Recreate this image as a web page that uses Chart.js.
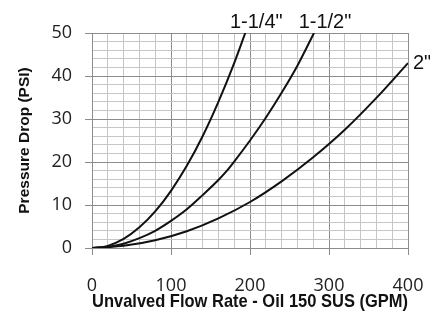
<!DOCTYPE html>
<html>
<head>
<meta charset="utf-8">
<script src="https://cdn.jsdelivr.net/npm/chart.js@4"></script>
<style>
  html, body { margin: 0; padding: 0; background: #fff; }
  #wrap { width: 430px; height: 311px; }
</style>
</head>
<body>
<div id="wrap"><canvas id="chart"></canvas></div>
<script>
// flow (GPM) and pressure drop (PSI)
const flow114 = [0, 20, 40, 60, 80, 100, 120, 140, 160, 180, 194];
const psi114  = [0, 0.5, 2.1, 4.8, 8.5, 13.3, 19.1, 26, 34, 43, 50];

const flow112 = [0, 20, 40, 60, 80, 100, 120, 140, 160, 170, 180, 200, 220, 240, 260, 281];
const psi112  = [0, 0.25, 1, 2.3, 4, 6.3, 9, 12.3, 15.8, 17.8, 20.1, 25, 30.3, 36.1, 42.4, 50];

const flow2 = [0, 40, 80, 120, 160, 200, 240, 280, 320, 360, 400];
const psi2  = [0, 0.5, 1.8, 3.9, 6.9, 10.7, 15.5, 21.1, 27.5, 34.9, 43];

const seriesLabels = ['1-1/4"', '1-1/2"', '2"'];

const xTitle = 'Unvalved Flow Rate - Oil 150 SUS (GPM)';
const yTitle = 'Pressure Drop (PSI)';

const majorGrid = '#8c8c8c';
const minorGrid = '#c6c6c6';

let toPoints = function(xs, ys) {
  return xs.map((x, i) => ({x: x, y: ys[i]}));
}

let makeSet = function(label, xs, ys) {
  return {
    label: label,
    data: toPoints(xs, ys),
    showLine: true,
    borderColor: '#111',
    borderWidth: 2,
    pointRadius: 0,
    fill: false,
    cubicInterpolationMode: 'monotone'
  };
}

// writes the size label next to the end of each curve
const endLabels = {
  id: 'endLabels',
  afterDraw(chart) {
    const ctx = chart.ctx;
    const xs = chart.scales.x, ys = chart.scales.y;
    ctx.save();
    ctx.font = '20px "Liberation Sans", Arial, sans-serif';
    ctx.fillStyle = '#111';
    chart.data.datasets.forEach((ds, i) => {
      const last = ds.data[ds.data.length - 1];
      const px = xs.getPixelForValue(last.x);
      const py = ys.getPixelForValue(last.y);
      if (i < 2) {
        ctx.textAlign = 'center';
        ctx.textBaseline = 'bottom';
        ctx.fillText(ds.label, px + 11, chart.chartArea.top - 1);
      } else {
        ctx.textAlign = 'left';
        ctx.textBaseline = 'middle';
        ctx.fillText(ds.label, px + 5, py);
      }
    });
    ctx.restore();
  }
};

const tickFont = { family: '"Open Sans", sans-serif', size: 18 };

const config = {
  type: 'scatter',
  data: {
    datasets: [
      makeSet(seriesLabels[0], flow114, psi114),
      makeSet(seriesLabels[1], flow112, psi112),
      makeSet(seriesLabels[2], flow2, psi2)
    ]
  },
  options: {
    responsive: true,
    maintainAspectRatio: false,
    animation: false,
    layout: { padding: { left: 0, top: 33, right: 22, bottom: 0 } },
    plugins: {
      legend: { display: false },
      tooltip: { enabled: false }
    },
    scales: {
      x: {
        type: 'linear',
        min: 0,
        max: 400,
        afterFit: (scale) => {
          scale.height = 63;
          scale.paddingLeft = 0;
          scale.paddingRight = 0;
        },
        ticks: {
          stepSize: 20,
          autoSkip: false,
          maxRotation: 0,
          padding: 20,
          color: '#222',
          font: tickFont,
          callback: (v) => (v % 100 === 0 ? v : '')
        },
        grid: {
          color: (c) => (c.tick && c.tick.value % 100 === 0 ? majorGrid : minorGrid),
          tickColor: (c) => (c.tick && c.tick.value % 100 === 0 ? majorGrid : 'rgba(0,0,0,0)'),
          tickLength: 7,
          lineWidth: 1
        },
        border: { color: majorGrid },
        title: {
          display: true,
          text: xTitle,
          color: '#111',
          font: { family: '"Liberation Sans", Arial, sans-serif', size: 18.5, weight: 'bold', lineHeight: 1 },
          padding: { top: 0, bottom: 0 }
        }
      },
      y: {
        type: 'linear',
        min: 0,
        max: 50,
        afterFit: (scale) => { scale.width = 92; },
        ticks: {
          stepSize: 2,
          autoSkip: false,
          padding: 13,
          color: '#222',
          font: tickFont,
          callback: (v) => (v % 10 === 0 ? v : '')
        },
        grid: {
          color: (c) => (c.tick && c.tick.value % 10 === 0 ? majorGrid : minorGrid),
          tickColor: (c) => (c.tick && c.tick.value % 10 === 0 ? majorGrid : 'rgba(0,0,0,0)'),
          tickLength: 7,
          lineWidth: 1
        },
        border: { color: majorGrid },
        title: {
          display: true,
          text: yTitle,
          color: '#111',
          font: { family: '"Liberation Sans", Arial, sans-serif', size: 15.5, weight: 'bold' },
          padding: { top: 15, bottom: 0 }
        }
      }
    }
  },
  plugins: [endLabels]
};

const myChart = new Chart(document.getElementById('chart'), config);
</script>
</body>
</html>
